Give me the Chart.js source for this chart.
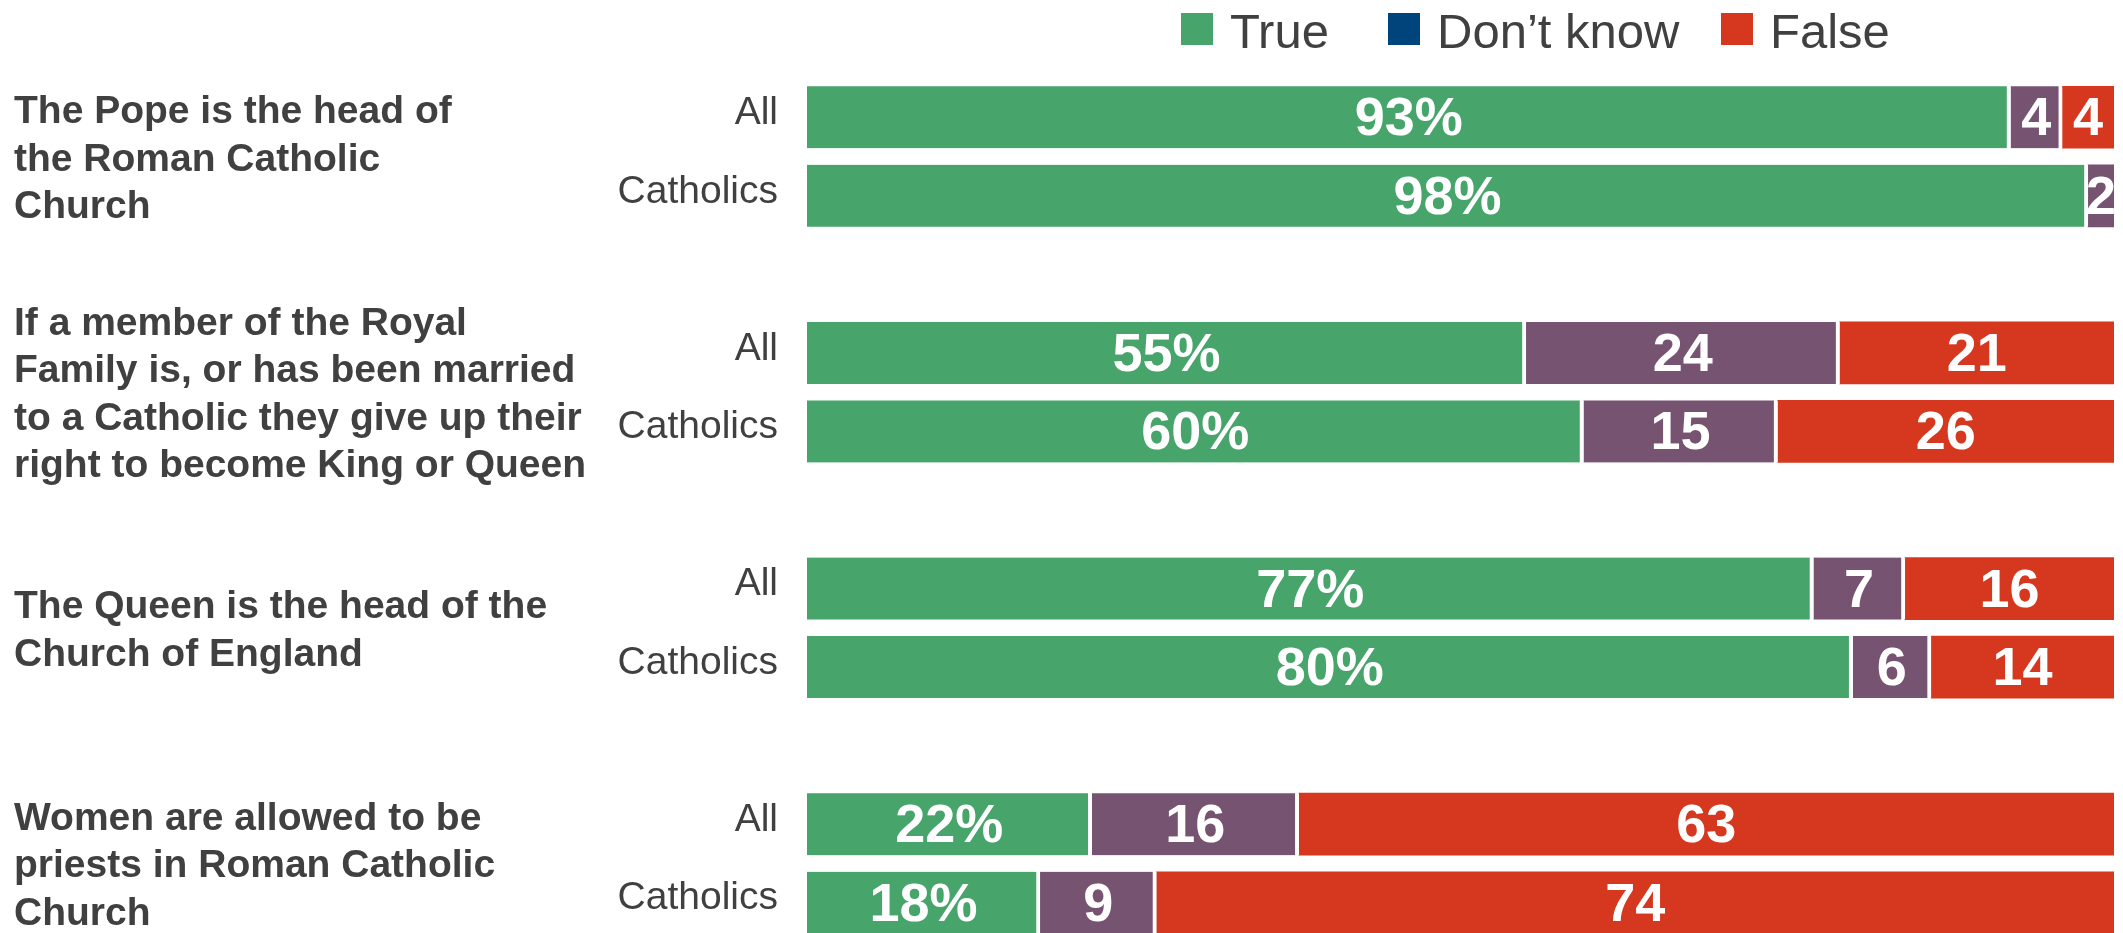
<!DOCTYPE html>
<html>
<head>
<meta charset="utf-8">
<script src="https://cdn.jsdelivr.net/npm/chart.js@4/dist/chart.umd.min.js"></script>
<style>
  html, body { margin: 0; padding: 0; background: #fff; overflow: hidden; }
  #wrap { position: relative; width: 2123px; height: 933px; overflow: hidden; }
  canvas { position: absolute; top: 0; left: 0; }
</style>
</head>
<body>
<div id="wrap">
  <canvas id="chart" width="2123" height="942"></canvas>
</div>
<script>
const rowLabels = ["All", "Catholics", "", "All", "Catholics", "", "All", "Catholics", "", "All", "Catholics"];
const trueVals = [93, 98, null, 55, 60, null, 77, 80, null, 22, 18];
const dontKnowVals = [4, 2, null, 24, 15, null, 7, 6, null, 16, 9];
const falseVals = [4, 0, null, 21, 26, null, 16, 14, null, 63, 74];
const statements = [
  ["The Pope is the head of", "the Roman Catholic", "Church"],
  ["If a member of the Royal", "Family is, or has been married", "to a Catholic they give up their", "right to become King or Queen"],
  ["The Queen is the head of the", "Church of England"],
  ["Women are allowed to be", "priests in Roman Catholic", "Church"]
];
const seriesNames = ["True", "Don\u2019t know", "False"];
const barColors = ["#47a46b", "#775372", "#d5381e"];
const legendColors = ["#47a46b", "#00447c", "#d5381e"];

const raw = [trueVals, dontKnowVals, falseVals];
// 100% stacked: each row is scaled to its own total
const totals = rowLabels.map((_, i) => raw.reduce((s, arr) => s + (arr[i] || 0), 0));
const share = (arr) => arr.map((v, i) => (v === null ? null : v / totals[i] * 100));

const textColor = "#404040";
const fontFamily = "'Liberation Sans', Arial, sans-serif";

const topLegend = {
  id: "topLegend",
  afterDraw(chart) {
    const ctx = chart.ctx;
    const lefts = [1181, 1388, 1721];
    ctx.save();
    ctx.font = `49px ${fontFamily}`;
    ctx.textBaseline = "alphabetic";
    ctx.textAlign = "left";
    seriesNames.forEach((name, i) => {
      ctx.fillStyle = legendColors[i];
      ctx.fillRect(lefts[i], 13, 32, 32);
      ctx.fillStyle = textColor;
      ctx.fillText(name, lefts[i] + 49, 48);
    });
    ctx.restore();
  }
};

const segmentLabels = {
  id: "segmentLabels",
  afterDatasetsDraw(chart) {
    const ctx = chart.ctx;
    ctx.save();
    ctx.fillStyle = "#fff";
    ctx.font = `bold 54px ${fontFamily}`;
    ctx.textAlign = "center";
    ctx.textBaseline = "alphabetic";
    chart.data.datasets.forEach((ds, di) => {
      chart.getDatasetMeta(di).data.forEach((bar, i) => {
        const v = raw[di][i];
        if (!v) return;
        const p = bar.getCenterPoint();
        ctx.fillText(di === 0 ? v + "%" : String(v), p.x, p.y + 18);
      });
    });
    ctx.restore();
  }
};

const statementLabels = {
  id: "statementLabels",
  afterDraw(chart) {
    const ctx = chart.ctx;
    const y = chart.scales.y;
    ctx.save();
    ctx.fillStyle = textColor;
    ctx.font = `bold 39px ${fontFamily}`;
    ctx.textAlign = "left";
    ctx.textBaseline = "alphabetic";
    statements.forEach((lines, g) => {
      const mid = (y.getPixelForValue(g * 3) + y.getPixelForValue(g * 3 + 1)) / 2;
      const lh = 47.5;
      const first = mid - (lines.length - 1) * lh / 2 + 14;
      lines.forEach((line, k) => ctx.fillText(line, 14, first + k * lh));
    });
    ctx.restore();
  }
};

new Chart(document.getElementById("chart"), {
  type: "bar",
  data: {
    labels: rowLabels,
    datasets: raw.map((arr, di) => ({
      label: seriesNames[di],
      data: share(arr),
      backgroundColor: barColors[di],
      borderColor: "#fff",
      borderSkipped: false,
      borderWidth: (c) => {
        const i = c.dataIndex;
        const last = di === 2 || (di === 1 && !falseVals[i]);
        return { top: 0, bottom: 0, left: 0, right: last ? 0 : 4 };
      },
      barThickness: 62
    }))
  },
  options: {
    indexAxis: "y",
    responsive: false,
    animation: false,
    devicePixelRatio: 1,
    layout: { padding: { top: 78, right: 9, bottom: 0, left: 0 } },
    plugins: { legend: { display: false }, tooltip: { enabled: false } },
    scales: {
      x: { stacked: true, min: 0, max: 100, display: false },
      y: {
        stacked: true,
        grid: { display: false, drawTicks: false },
        border: { display: false },
        ticks: { color: textColor, font: { size: 39, family: fontFamily }, padding: 29, labelOffset: -4 },
        afterFit: (scale) => {
          scale.width = 807;
          scale.paddingTop = 0;
          scale.paddingBottom = 0;
        }
      }
    }
  },
  plugins: [segmentLabels, statementLabels, topLegend]
});
</script>
</body>
</html>
